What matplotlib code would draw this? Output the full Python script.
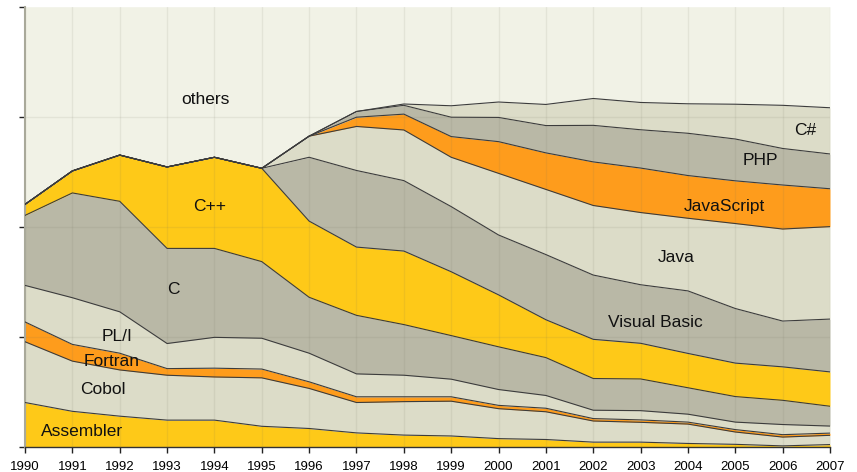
import numpy as np
import matplotlib.pyplot as plt

years = list(range(1990, 2008))

# share of each language in percent, bottom of the stack first
assembler = [10.1, 8.1, 7.0, 6.1, 6.1, 4.7, 4.2, 3.2, 2.7, 2.5, 1.9, 1.7, 1.1, 1.1, 0.8, 0.6, 0.25, 0.55]
cobol = [13.8, 11.4, 10.5, 10.2, 9.8, 11.0, 9.1, 6.9, 7.6, 7.9, 6.8, 6.3, 4.8, 4.5, 4.4, 2.8, 2.0, 2.1]
fortran = [4.5, 3.8, 3.8, 1.5, 2.0, 2.0, 1.5, 1.3, 1.1, 1.0, 0.75, 0.8, 0.55, 0.55, 0.45, 0.55, 0.55, 0.5]
pli = [8.3, 10.6, 9.4, 5.7, 7.0, 7.0, 6.5, 5.2, 4.9, 4.0, 3.6, 2.9, 1.9, 2.1, 1.8, 1.7, 2.3, 1.6]
c = [15.9, 23.8, 25.1, 21.6, 20.2, 17.4, 12.7, 13.3, 11.5, 9.9, 9.7, 8.6, 7.2, 7.2, 6.0, 5.8, 5.5, 4.5]
cpp = [2.5, 5.0, 10.5, 18.5, 20.7, 21.2, 17.3, 15.5, 16.7, 14.5, 11.8, 8.6, 8.9, 8.1, 7.8, 7.6, 7.6, 7.8]
vbasic = [0, 0, 0, 0, 0, 0, 14.5, 17.4, 16.0, 14.8, 13.6, 14.8, 14.6, 13.3, 14.2, 12.4, 10.4, 12.0]
java = [0, 0, 0, 0, 0, 0, 4.8, 10.0, 11.5, 11.2, 14.0, 14.8, 15.8, 16.4, 16.5, 19.3, 20.9, 21.0]
javascript = [0, 0, 0, 0, 0, 0, 0, 2.1, 3.6, 4.7, 7.2, 8.3, 9.9, 10.1, 9.7, 9.7, 10.0, 8.6]
php = [0, 0, 0, 0, 0, 0, 0, 1.3, 2.0, 4.4, 5.5, 6.2, 8.3, 8.7, 9.6, 9.5, 8.3, 7.9]
csharp = [0, 0, 0, 0, 0, 0, 0, 0, 0.3, 2.6, 3.5, 4.8, 6.1, 6.2, 6.7, 7.9, 9.8, 10.5]

yellow = '#fec918'
orange = '#fe9c1c'
gray = '#b9b8a6'
light = '#dcdcc8'
others_col = '#f1f2e6'

layers = [
    ('Assembler', assembler, yellow),
    ('Cobol', cobol, light),
    ('Fortran', fortran, orange),
    ('PL/I', pli, light),
    ('C', c, gray),
    ('C++', cpp, yellow),
    ('Visual Basic', vbasic, gray),
    ('Java', java, light),
    ('JavaScript', javascript, orange),
    ('PHP', php, gray),
    ('C#', csharp, light),
]

# label positions (year, percent)
labels = {
    'Assembler': (1991.2, 3.5),
    'Cobol': (1991.65, 13.0),
    'Fortran': (1991.82, 19.5),
    'PL/I': (1991.94, 25.0),
    'C': (1993.13, 35.7),
    'C++': (1993.89, 54.7),
    'Visual Basic': (2003.32, 28.3),
    'Java': (2003.75, 43.0),
    'JavaScript': (2004.78, 54.7),
    'PHP': (2005.52, 65.0),
    'C#': (2006.47, 71.9),
    'others': (1993.8, 79.0),
}

fig = plt.figure(figsize=(8.57, 4.72), dpi=100)
ax = fig.add_axes([0.0292, 0.053, 0.9393, 0.9328])
ax.set_facecolor('white')

x = np.array(years)
base = np.zeros(len(years))
tops = []
for name, vals, col in layers:
    top = base + np.array(vals)
    ax.fill_between(x, base, top, color=col, linewidth=0, zorder=1)
    tops.append(top)
    base = top
ax.fill_between(x, base, 100, color=others_col, linewidth=0, zorder=1)

# faint grid over the areas
for yr in years:
    ax.axvline(yr, color='#6f6f5a', alpha=0.1, lw=1, zorder=2)
for yv in [25, 50, 75]:
    ax.axhline(yv, color='#6f6f5a', alpha=0.1, lw=1, zorder=2)

for top in tops:
    ax.plot(x, top, color='#3c3c3c', lw=0.8, zorder=3)

for name, (lx, ly) in labels.items():
    ax.text(lx, ly, name, fontsize=12.5, family='Liberation Sans', color='#111111',
            ha='center', va='center', zorder=4)

ax.set_xlim(1990, 2007)
ax.set_ylim(0, 100)
ax.set_xticks(years)
ax.set_xticklabels([str(y) for y in years], fontsize=9.5, family='Liberation Sans')
ax.set_yticks([0, 25, 50, 75, 100])
ax.set_yticklabels([])
ax.tick_params(axis='both', direction='out', length=4, width=1, color='#222222', pad=6)
ax.spines['top'].set_visible(False)
ax.spines['right'].set_visible(False)
ax.spines['left'].set_color('#a9a99a')
ax.spines['left'].set_linewidth(1.5)
ax.spines['bottom'].set_color('#333333')
ax.spines['bottom'].set_linewidth(1)

fig.savefig('out.png', dpi=100)
